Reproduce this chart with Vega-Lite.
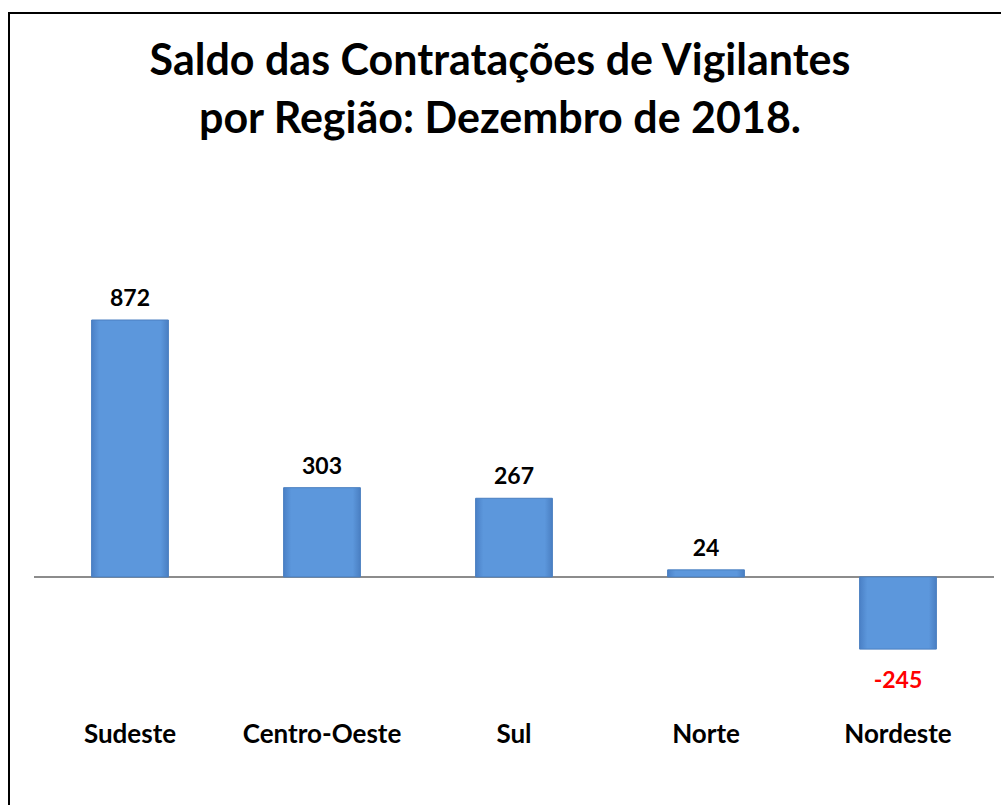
{
  "$schema": "https://vega.github.io/schema/vega-lite/v6.json",
  "width": 1001,
  "height": 802,
  "autosize": "none",
  "padding": {"left": 9, "top": 13, "right": 0, "bottom": 0},
  "background": "white",
  "config": {"view": {"stroke": "#000000", "strokeWidth": 2}, "font": "Lato"},
  "title": {
    "text": ["Saldo das Contratações de Vigilantes", "por Região: Dezembro de 2018."],
    "font": "Lato",
    "fontSize": 43,
    "fontWeight": "bold",
    "color": "#000000",
    "anchor": "middle",
    "frame": "group",
    "dx": -9.5,
    "offset": -163,
    "baseline": "alphabetic",
    "lineHeight": 58
  },
  "data": {
    "values": [
      {"region": "Sudeste", "value": 872},
      {"region": "Centro-Oeste", "value": 303},
      {"region": "Sul", "value": 267},
      {"region": "Norte", "value": 24},
      {"region": "Nordeste", "value": -245}
    ]
  },
  "encoding": {
    "x": {
      "field": "region",
      "type": "nominal",
      "sort": null,
      "scale": {"range": [25, 985], "paddingInner": 0.6, "paddingOuter": 0.3},
      "axis": {
        "title": null,
        "domain": false,
        "ticks": false,
        "labelAngle": 0,
        "labelFont": "Lato",
        "labelFontSize": 26,
        "labelFontWeight": "bold",
        "labelColor": "#000000",
        "offset": -94,
        "labelPadding": 0,
        "labelBaseline": "top"
      }
    },
    "y": {
      "field": "value",
      "type": "quantitative",
      "scale": {"domain": [-808, 1914], "nice": false, "zero": false},
      "axis": null
    }
  },
  "layer": [
    {
      "mark": {"type": "rule", "color": "#8c8c8c", "strokeWidth": 2},
      "encoding": {
        "x": {"field": "region", "type": "nominal", "sort": null, "bandPosition": -0.75},
        "x2": {"field": "region", "bandPosition": 1.75},
        "y": {"datum": 0}
      }
    },
    {
      "mark": {
        "type": "bar",
        "color": {
          "gradient": "linear",
          "x1": 0, "y1": 0, "x2": 1, "y2": 0,
          "stops": [
            {"offset": 0, "color": "#4a80c6"},
            {"offset": 0.1, "color": "#5c97dc"},
            {"offset": 0.9, "color": "#5c97dc"},
            {"offset": 1, "color": "#4a7fc2"}
          ]
        },
        "stroke": "#4a7fc0",
        "strokeWidth": 1
      },
      "encoding": {"y2": {"datum": 0}}
    },
    {
      "transform": [{"filter": "datum.value >= 0"}],
      "mark": {"type": "text", "baseline": "alphabetic", "dy": -14, "fontSize": 23, "fontWeight": "bold", "color": "#000000"},
      "encoding": {"text": {"field": "value", "type": "nominal"}}
    },
    {
      "transform": [{"filter": "datum.value < 0"}],
      "mark": {"type": "text", "baseline": "top", "dy": 21, "fontSize": 23, "fontWeight": "bold", "color": "#ff0000"},
      "encoding": {"text": {"field": "value", "type": "nominal"}, "y": {"field": "value", "type": "quantitative"}}
    }
  ]
}
